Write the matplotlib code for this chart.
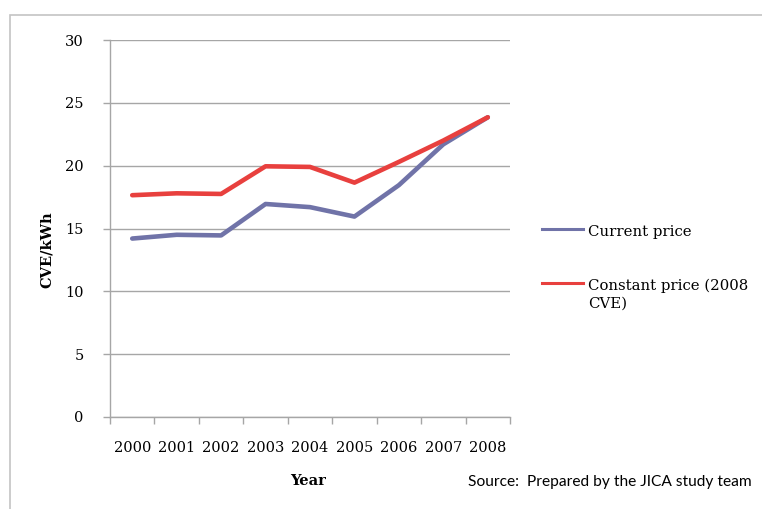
import matplotlib
matplotlib.use("Agg")
import matplotlib.pyplot as plt
from matplotlib.lines import Line2D
from matplotlib.patches import Rectangle

years = ["2000", "2001", "2002", "2003", "2004", "2005", "2006", "2007", "2008"]
current_price = [14.2, 14.5, 14.45, 16.95, 16.7, 15.95, 18.45, 21.7, 23.85]
constant_price = [17.65, 17.8, 17.75, 19.95, 19.9, 18.65, 20.3, 22.0, 23.85]
y_ticks = [0, 5, 10, 15, 20, 25, 30]

BLUE = "#7073A8"
RED = "#E8403E"
GRID = "#A6A6A6"
SERIF = "DejaVu Serif"

W, H = 762, 509
fig = plt.figure(figsize=(W / 100, H / 100), dpi=100)

# light frame around the chart area
fig.add_artist(Rectangle((10 / W, -0.1), 1.2, 1 - 15 / H + 0.1,
                         transform=fig.transFigure, fill=False,
                         edgecolor="#C4C4C4", linewidth=1.2))

ax = fig.add_axes([110 / W, 1 - 417 / H, 400 / W, (417 - 40) / H])
x = list(range(len(years)))
ax.plot(x, current_price, color=BLUE, linewidth=3.3, solid_capstyle="round",
        solid_joinstyle="round")
ax.plot(x, constant_price, color=RED, linewidth=3.3, solid_capstyle="round",
        solid_joinstyle="round")

ax.set_xlim(-0.5, len(years) - 0.5)
ax.set_ylim(0, 30)
ax.set_yticks(y_ticks)
ax.yaxis.grid(True, color=GRID, linewidth=1.0)
ax.set_axisbelow(True)

ax.set_xticks([i - 0.5 for i in range(len(years) + 1)], minor=False)
ax.set_xticklabels([])
ax.set_xticks(x, minor=True)
ax.set_xticklabels(years, minor=True, fontfamily=SERIF, fontsize=10.5)
ax.tick_params(axis="x", which="major", length=5, color=GRID, width=1)
ax.tick_params(axis="x", which="minor", length=0, pad=17)
ax.tick_params(axis="y", length=5, color=GRID, width=1, pad=14)
for lbl in ax.get_yticklabels():
    lbl.set_fontfamily(SERIF)
    lbl.set_fontsize(10.5)

for side in ("top", "right"):
    ax.spines[side].set_visible(False)
for side in ("left", "bottom"):
    ax.spines[side].set_color(GRID)
    ax.spines[side].set_linewidth(1.0)

fig.text(47 / W, 1 - 250 / H, "CVE/kWh", rotation=90, ha="center", va="center",
         fontfamily=SERIF, fontweight="bold", fontsize=10.5)
fig.text(308 / W, 1 - 481 / H, "Year", ha="center", va="center",
         fontfamily=SERIF, fontweight="bold", fontsize=10.5)

# legend
for y_px, color, label in [(229, BLUE, "Current price"),
                           (283, RED, "Constant price (2008\nCVE)")]:
    fig.add_artist(Line2D([542 / W, 583 / W], [1 - y_px / H, 1 - y_px / H],
                          transform=fig.transFigure, color=color, linewidth=2.2))
    fig.text(588 / W, 1 - (y_px - 4) / H, label, ha="left", va="top",
             fontfamily=SERIF, fontsize=10.7, linespacing=1.3)

fig.text(468 / W, 1 - 482 / H, "Source:  Prepared by the JICA study team",
         ha="left", va="center", fontfamily="Lato", fontsize=11.2)

fig.savefig("out.png", dpi=100)
